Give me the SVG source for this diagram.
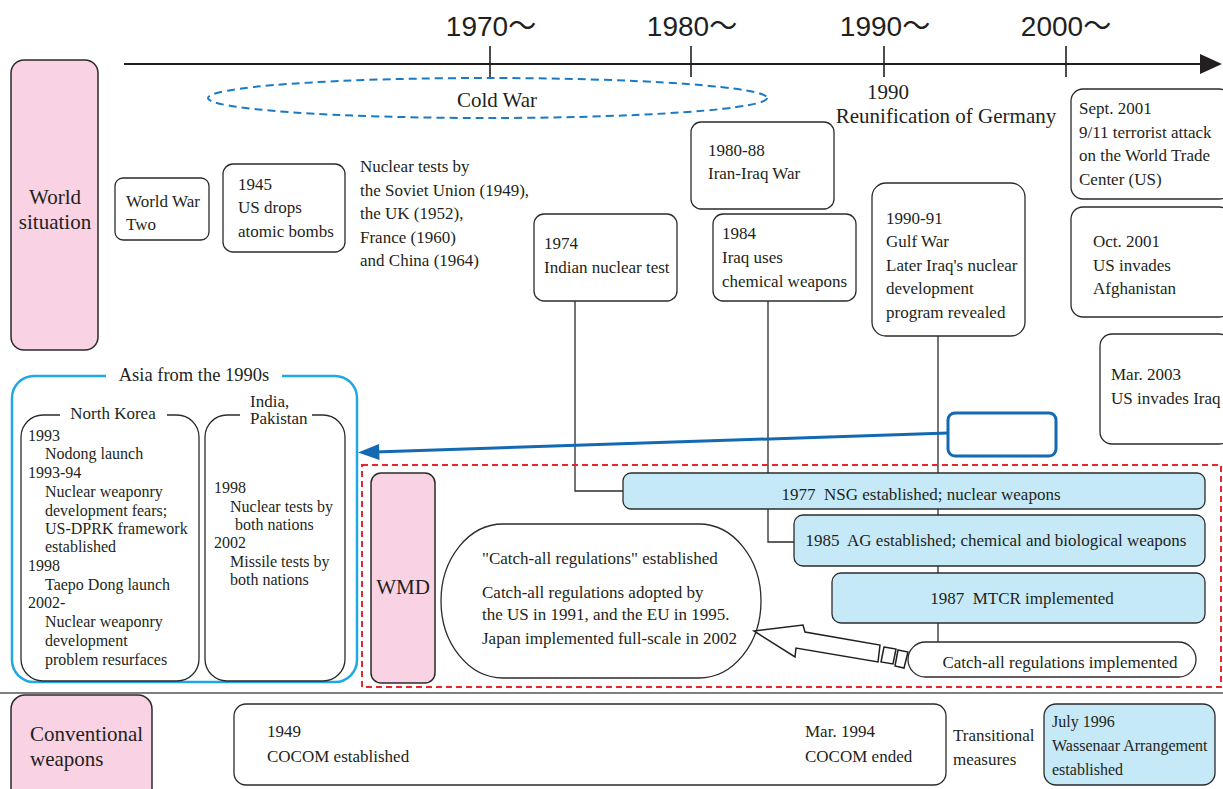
<svg xmlns="http://www.w3.org/2000/svg" width="1223" height="789" viewBox="0 0 1223 789">
<style>
text{font-family:"Liberation Serif","Times New Roman",serif;fill:#231f20}
.t{font-size:17px}
.s{font-size:16px}
.big{font-size:21px}
.yr{font-family:"Liberation Sans",Arial,"Noto Sans CJK JP",sans-serif;font-size:28px;text-anchor:middle}
.box{fill:#fff;stroke:#2b2b2b;stroke-width:1.3}
.pink{fill:#f9d3e3;stroke:#2b2b2b;stroke-width:1.5}
.blue{fill:#c6e9f8;stroke:#2b2b2b;stroke-width:1.3}
.c{text-anchor:middle}
.conn{fill:none;stroke:#2b2b2b;stroke-width:1.3}
</style>
<rect width="1223" height="789" fill="#fff"/>

<g id="timeline">
<line x1="124" y1="64" x2="1202" y2="64" stroke="#231f20" stroke-width="2"/>
<polygon points="1200,54 1222,64 1200,74" fill="#231f20"/>
<g stroke="#231f20" stroke-width="1.6">
<line x1="490" y1="46" x2="490" y2="77"/>
<line x1="691" y1="46" x2="691" y2="77"/>
<line x1="884" y1="46" x2="884" y2="77"/>
<line x1="1066" y1="46" x2="1066" y2="77"/>
</g>
<text class="yr" x="491" y="36">1970～</text>
<text class="yr" x="692" y="36">1980～</text>
<text class="yr" x="885" y="36">1990～</text>
<text class="yr" x="1066" y="36">2000～</text>
</g>

<g id="cold-war">
<ellipse cx="487.5" cy="98" rx="279.5" ry="20" fill="none" stroke="#1a7ac4" stroke-width="2" stroke-dasharray="8 5"/>
<text class="big c" x="497" y="107">Cold War</text>
</g>

<g id="reunification">
<text class="big c" x="888" y="99">1990</text>
<text class="big c" x="946" y="123">Reunification of Germany</text>
</g>

<g id="connectors">
<polyline class="conn" points="575,301 575,491 623,491"/>
<polyline class="conn" points="768,301 768,542 794,542"/>
<line class="conn" x1="938" y1="336" x2="938" y2="642"/>
</g>

<g id="world-situation">
<rect class="pink" x="11" y="60" width="87" height="290" rx="13"/>
<text class="big c" x="55" y="204">World</text>
<text class="big c" x="55" y="229">situation</text>
</g>

<g id="ww2">
<rect class="box" x="115" y="178" width="94" height="62" rx="8"/>
<text class="t" x="126" y="207">World War</text>
<text class="t" x="126" y="230">Two</text>
</g>

<g id="n1945">
<rect class="box" x="223" y="164" width="122" height="88" rx="10"/>
<text class="t" x="238" y="190">1945</text>
<text class="t" x="238" y="213">US drops</text>
<text class="t" x="238" y="237">atomic bombs</text>
</g>

<g id="nuclear-tests">
<text class="t" x="360" y="172">Nuclear tests by</text>
<text class="t" x="360" y="196">the Soviet Union (1949),</text>
<text class="t" x="360" y="219">the UK (1952),</text>
<text class="t" x="360" y="243">France (1960)</text>
<text class="t" x="360" y="266">and China (1964)</text>
</g>

<g id="n1974">
<rect class="box" x="534" y="214" width="143" height="87" rx="10"/>
<text class="t" x="544" y="249">1974</text>
<text class="t" x="544" y="273">Indian nuclear test</text>
</g>

<g id="n1980">
<rect class="box" x="691" y="122" width="143" height="87" rx="10"/>
<text class="t" x="708" y="156">1980-88</text>
<text class="t" x="708" y="179">Iran-Iraq War</text>
</g>

<g id="n1984">
<rect class="box" x="713" y="214" width="143" height="87" rx="10"/>
<text class="t" x="722" y="239">1984</text>
<text class="t" x="722" y="263">Iraq uses</text>
<text class="t" x="722" y="287">chemical weapons</text>
</g>

<g id="n1990">
<rect class="box" x="872" y="183" width="153" height="153" rx="14"/>
<text class="t" x="886" y="224">1990-91</text>
<text class="t" x="886" y="247">Gulf War</text>
<text class="t" x="886" y="271">Later Iraq's nuclear</text>
<text class="t" x="886" y="294">development</text>
<text class="t" x="886" y="318">program revealed</text>
</g>

<g id="n2001sep">
<rect class="box" x="1071" y="89" width="160" height="110" rx="12"/>
<text class="t" x="1079" y="114">Sept. 2001</text>
<text class="t" x="1079" y="138">9/11 terrorist attack</text>
<text class="t" x="1079" y="161">on the World Trade</text>
<text class="t" x="1079" y="185">Center (US)</text>
</g>

<g id="n2001oct">
<rect class="box" x="1071" y="207" width="160" height="110" rx="12"/>
<text class="t" x="1093" y="247">Oct. 2001</text>
<text class="t" x="1093" y="271">US invades</text>
<text class="t" x="1093" y="294">Afghanistan</text>
</g>

<g id="n2003">
<rect class="box" x="1100" y="334" width="131" height="110" rx="12"/>
<text class="t" x="1111" y="380">Mar. 2003</text>
<text class="t" x="1111" y="404">US invades Iraq</text>
</g>

<g id="asia">
<rect x="12" y="376" width="345" height="306" rx="22" fill="#fff" stroke="#1fa8e2" stroke-width="2.5"/>
<rect x="106" y="368" width="176" height="14" fill="#fff"/>
<text class="c" x="194" y="381" font-size="18.5">Asia from the 1990s</text>
</g>

<g id="north-korea">
<rect class="box" x="21" y="415" width="178" height="266" rx="22"/>
<rect x="60" y="408" width="107" height="12" fill="#fff"/>
<text class="c" x="113" y="419" font-size="17">North Korea</text>
<text class="s" x="28" y="441">1993</text>
<text class="s" x="45" y="459">Nodong launch</text>
<text class="s" x="28" y="478">1993-94</text>
<text class="s" x="45" y="497">Nuclear weaponry</text>
<text class="s" x="45" y="516">development fears;</text>
<text class="s" x="45" y="534">US-DPRK framework</text>
<text class="s" x="45" y="552">established</text>
<text class="s" x="28" y="571">1998</text>
<text class="s" x="45" y="590">Taepo Dong launch</text>
<text class="s" x="28" y="608">2002-</text>
<text class="s" x="45" y="627">Nuclear weaponry</text>
<text class="s" x="45" y="646">development</text>
<text class="s" x="45" y="665">problem resurfaces</text>
</g>

<g id="india-pakistan">
<rect class="box" x="205" y="415" width="140" height="266" rx="22"/>
<rect x="240" y="408" width="72" height="12" fill="#fff"/>
<text x="250" y="407" font-size="17">India,</text>
<text x="250" y="424" font-size="17">Pakistan</text>
<text class="s" x="214" y="493">1998</text>
<text class="s" x="230" y="512">Nuclear tests by</text>
<text class="s" x="235" y="530">both nations</text>
<text class="s" x="214" y="548">2002</text>
<text class="s" x="230" y="567">Missile tests by</text>
<text class="s" x="230" y="585">both nations</text>
</g>

<g id="wmd-area">
<rect x="362" y="465" width="859" height="222" fill="none" stroke="#e8262d" stroke-width="2" stroke-dasharray="6 4"/>
</g>

<g id="wmd">
<rect class="pink" x="371" y="473" width="64" height="210" rx="10"/>
<text class="big c" x="403" y="594">WMD</text>
</g>

<g id="nsg">
<rect class="blue" x="623" y="473" width="582" height="36" rx="8"/>
<text class="t c" x="921" y="500">1977&#160; NSG established; nuclear weapons</text>
</g>

<g id="ag">
<rect class="blue" x="794" y="515" width="411" height="51" rx="9"/>
<text class="t c" x="996" y="546">1985&#160; AG established; chemical and biological weapons</text>
</g>

<g id="mtcr">
<rect class="blue" x="832" y="573" width="373" height="50" rx="9"/>
<text class="t c" x="1022" y="604">1987&#160; MTCR implemented</text>
</g>

<g id="catchall-impl">
<rect class="box" x="908" y="642" width="288" height="35" rx="17.5"/>
<text class="t c" x="1060" y="668">Catch-all regulations implemented</text>
</g>

<g id="catchall">
<rect class="box" x="441" y="524" width="320" height="154" rx="62" ry="77"/>
<text class="t" x="482" y="564">"Catch-all regulations" established</text>
<text class="t" x="482" y="598">Catch-all regulations adopted by</text>
<text class="t" x="482" y="620">the US in 1991, and the EU in 1995.</text>
<text class="t" x="482" y="644">Japan implemented full-scale in 2002</text>
</g>

<g id="hollow-arrow">
<polygon points="754,631 803,625 805,632 880,645 878,662 796,648 795,657" fill="#fff" stroke="#231f20" stroke-width="1.5" stroke-linejoin="miter"/>
<polygon points="884,647 896,649 893,664 881,662" fill="#fff" stroke="#231f20" stroke-width="1.5"/>
<polygon points="898,650 908,652 904,668 895,666" fill="#fff" stroke="#231f20" stroke-width="1.5"/>
</g>

<g id="blue-link">
<rect x="948" y="413" width="108" height="43" rx="7" fill="#fff" stroke="#1469b3" stroke-width="3"/>
<line x1="948" y1="433" x2="375" y2="452" stroke="#1469b3" stroke-width="3"/>
<polygon points="358,452.5 379,444 379.5,460" fill="#1469b3"/>
</g>

<line id="divider" x1="0" y1="693" x2="1223" y2="693" stroke="#555" stroke-width="1.5"/>

<g id="conventional">
<rect class="pink" x="11" y="695" width="141" height="110" rx="14"/>
<text class="big" x="30" y="741">Conventional</text>
<text class="big" x="30" y="766">weapons</text>
</g>

<g id="cocom">
<rect class="box" x="234" y="704" width="712" height="81" rx="12"/>
<text class="t" x="267" y="737">1949</text>
<text class="t" x="267" y="762">COCOM established</text>
<text class="t" x="805" y="737">Mar. 1994</text>
<text class="t" x="805" y="762">COCOM ended</text>
</g>

<g id="transitional">
<text class="t" x="953" y="741">Transitional</text>
<text class="t" x="953" y="765">measures</text>
</g>

<g id="wassenaar">
<rect class="blue" x="1044" y="704" width="171" height="81" rx="12"/>
<text class="s" x="1052" y="727">July 1996</text>
<text class="s" x="1052" y="751">Wassenaar Arrangement</text>
<text class="s" x="1052" y="775">established</text>
</g>
</svg>
